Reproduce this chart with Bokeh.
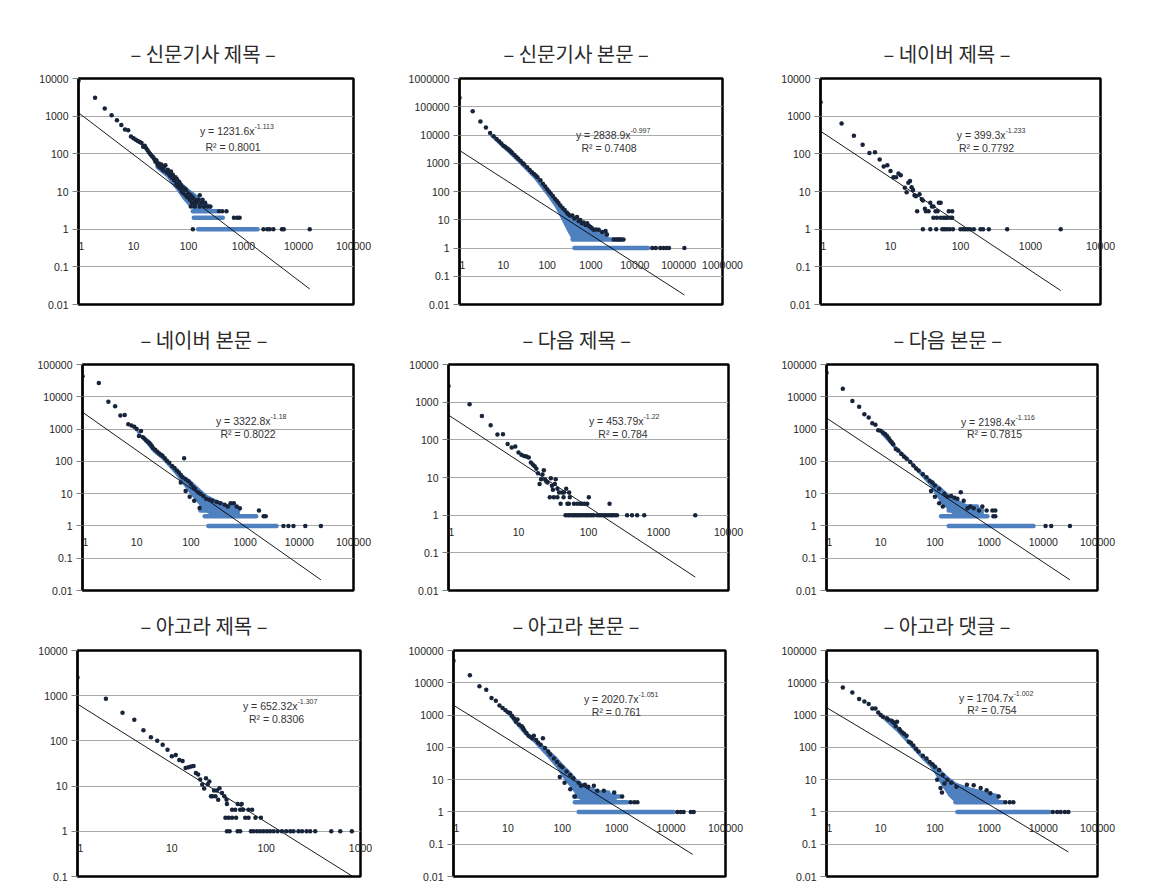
import math
from bokeh.plotting import figure
from bokeh.layouts import row, column
from bokeh.models import Range1d, FixedTicker, CustomJSTickFormatter, Label
from bokeh.embed import file_html
from bokeh.resources import INLINE

# ---------------- DATA ----------------
TITLES = ["– 신문기사 제목 –", "– 신문기사 본문 –", "– 네이버 제목 –",
          "– 네이버 본문 –", "– 다음 제목 –", "– 다음 본문 –",
          "– 아고라 제목 –", "– 아고라 본문 –", "– 아고라 댓글 –"]
FIT_A = [1231.6, 2838.9, 399.3, 3322.8, 453.79, 2198.4, 652.32, 2020.7, 1704.7]
FIT_B = [1.113, 0.997, 1.233, 1.18, 1.22, 1.116, 1.307, 1.051, 1.002]
FIT_B_TXT = ["-1.113", "-0.997", "-1.233", "-1.18", "-1.22", "-1.116", "-1.307", "-1.051", "-1.002"]
R2 = ["0.8001", "0.7408", "0.7792", "0.8022", "0.784", "0.7815", "0.8306", "0.761", "0.754"]
FIT_XMAX = [16000, 135000, 2700, 25000, 3350, 31000, 820, 25000, 29000]
X_DECADES = [5, 6, 4, 5, 4, 5, 3, 5, 5]
Y_LOG_MIN = [-2, -2, -2, -2, -2, -2, -1, -2, -2]
Y_LOG_MAX = [4, 6, 4, 5, 4, 5, 4, 5, 5]

# 1. 신문기사 제목
NT_PTS = [(1, 8700), (2, 3100), (3, 1600), (4, 1050), (5, 780), (6, 580), (7, 440), (8, 420), (9, 290),
          (10, 260), (11, 235), (12, 220), (13, 205), (14, 195), (15, 155), (16, 165), (17, 140), (18, 125),
          (19, 110), (20, 100), (21, 92), (22, 85), (23, 80), (24, 72), (25, 62), (26, 68), (27, 56),
          (28, 50), (29, 55), (30, 44), (32, 52), (33, 40), (35, 36), (36, 46), (38, 50), (40, 32),
          (42, 38), (44, 29), (46, 26), (48, 34), (50, 23), (52, 28), (55, 20), (58, 24), (60, 16),
          (62, 21), (65, 14), (68, 18), (70, 12), (72, 15), (75, 10), (78, 13), (80, 9), (85, 12),
          (88, 8), (90, 11), (95, 7), (100, 9), (105, 6), (110, 8), (115, 5), (120, 7), (125, 5),
          (130, 6), (140, 5), (150, 6), (160, 8), (170, 5), (180, 6), (200, 5), (220, 4), (250, 4)]
NT_R1 = [120, 2300, 2700, 3000, 3500, 5000, 5400, 16000]
NT_R2 = [670, 770, 850]
NT_R3 = [360, 410, 490]
NT_R4 = [110, 130, 160, 190]
NT_BANDS = [(3, 120, 330), (2, 125, 420), (1, 150, 1800)]
NT_CX = [25, 40, 60, 80, 100, 130, 160, 200, 260]
NT_CHI = [62, 42, 24, 16, 12, 9, 7, 5.5, 4.2]
NT_CLO = [42, 24, 11, 6, 4.2, 3.2, 3, 3, 3]

# 2. 신문기사 본문
NB_PTS = [(1, 210000), (2, 70000), (3, 30000), (4, 18600), (5, 11700), (6, 9000), (7, 7200), (8, 6000),
          (9, 5000), (10, 4200), (11, 3800), (12, 3400), (13, 3100), (14, 2800), (15, 2550), (16, 2300),
          (18, 1950), (20, 1650), (22, 1450), (25, 1200), (28, 1000), (30, 900), (35, 720), (40, 580),
          (45, 480), (50, 420), (55, 370), (60, 320), (70, 250), (80, 190), (90, 150), (100, 120),
          (110, 100), (120, 85), (135, 70), (150, 55), (165, 47), (180, 40), (200, 32), (225, 26),
          (250, 22), (280, 18), (300, 16), (330, 14), (375, 14), (420, 11), (480, 12.5), (520, 9),
          (570, 9.8), (620, 7.5), (680, 8), (750, 6.5), (820, 7.5), (900, 6), (970, 5.5), (1050, 5),
          (1150, 4.4), (1300, 4.5), (1500, 4.4), (1800, 3.7), (2150, 4), (2300, 3)]
NB_R1 = [25000, 30000, 38000, 45000, 52000, 60000, 135000]
NB_R2 = [3300, 3800, 4300, 4800, 5500]
NB_R3 = []
NB_R4 = []
NB_BANDS = [(3, 400, 2200), (2, 380, 5000), (1, 420, 20000)]
NB_CX = [5, 10, 20, 50, 100, 150, 200, 250, 300, 380, 500, 800, 1500, 2500]
NB_CHI = [11700, 4200, 1650, 420, 120, 55, 32, 22, 16, 13, 9, 6.5, 4.4, 3.5]
NB_CLO = [9000, 3300, 1200, 280, 70, 28, 12, 6, 3.5, 1.8, 1.8, 1.8, 1.8, 1.8]

# 3. 네이버 제목
VT_PTS = [(1, 2330), (2, 640), (3, 300), (4, 174), (5, 105), (6, 110), (7, 71), (8, 46), (9, 50),
          (10, 35), (11, 24), (12, 24), (13, 30), (14, 27), (16, 12.5), (17, 9.5), (18, 17), (19, 19),
          (20, 13), (21, 11), (22, 8), (23, 7.5), (26, 8.5), (28, 6.2), (29, 5.8), (31, 3.5),
          (37, 5), (49, 5), (52, 5), (39, 4), (41, 4)]
VT_R1 = [29, 37, 45, 55, 59, 64, 70, 78, 100, 109, 117, 127, 137, 155, 193, 210, 254, 464, 2700]
VT_R2 = [41, 46, 52, 57, 61, 65, 72, 76]
VT_R3 = [24, 32, 35, 44, 47, 68, 76]
VT_R4 = []
VT_BANDS = []
VT_CX = []
VT_CHI = []
VT_CLO = []

# 4. 네이버 본문
VB_PTS = [(1, 43600), (2, 26500), (3, 7000), (4, 5100), (5, 2650), (6, 2750), (7, 1400), (8, 1300),
          (9, 1170), (10, 1000), (11, 610), (12, 870), (13, 560), (14, 500), (15, 440), (16, 410),
          (17, 380), (18, 340), (19, 300), (20, 260), (22, 230), (24, 200), (26, 175), (28, 160),
          (30, 150), (33, 125), (36, 105), (40, 90), (45, 72), (50, 62), (55, 52), (60, 45), (65, 38),
          (70, 32), (75, 125), (80, 28), (90, 24), (100, 20), (110, 16), (120, 14), (135, 11), (150, 10),
          (170, 8.5), (190, 7), (220, 6.5), (250, 6), (300, 5.5), (350, 5), (420, 4.5), (480, 4),
          (540, 5), (620, 5), (700, 4), (800, 3.5), (1800, 3),
          (65, 22), (80, 12), (95, 8), (115, 6), (145, 3.6)]
VB_R1 = [5100, 6300, 7800, 12900, 25000]
VB_R2 = [2200, 2400]
VB_R3 = []
VB_R4 = []
VB_BANDS = [(4, 280, 600), (3, 150, 750), (2, 180, 1600), (1, 210, 3800)]
VB_CX = [10, 20, 30, 50, 70, 100, 150, 200, 300, 500, 800]
VB_CHI = [1000, 260, 155, 65, 40, 26, 14, 9, 6.5, 4.5, 3.5]
VB_CLO = [800, 190, 110, 42, 20, 9, 4, 2.5, 1.8, 1.8, 1.8]

# 5. 다음 제목
DT_PTS = [(1, 2680), (2, 877), (3, 431), (4, 244), (5, 138), (6, 141), (7, 77), (8, 63), (9, 67),
          (10, 46), (11, 40), (12, 37), (13, 36), (14, 34), (15, 25), (16, 22), (17, 20), (18, 17),
          (19, 13), (20, 6.7), (21, 9), (22, 12), (23, 15.5), (24, 8.8), (25, 7.8), (26, 7.4),
          (29, 9.5), (30, 6), (31, 4.7), (33, 6.7), (34, 9), (36, 5), (48, 5)]
DT_R1 = [47, 51, 54, 58.5, 62, 66, 70, 75, 80, 86, 92, 97, 104, 111, 119, 133, 143, 153, 165, 177,
         190, 205, 220, 237, 255, 356, 418, 495, 626, 3350]
DT_R2 = [40, 50, 52.5, 62, 69, 77, 81, 88, 96, 200]
DT_R3 = [28, 32, 36, 44, 54, 101]
DT_R4 = [38, 42, 44.5, 53]
DT_BANDS = []
DT_CX = []
DT_CHI = []
DT_CLO = []

# 6. 다음 본문
DB_PTS = [(1, 55400), (2, 17800), (3, 7400), (4, 4950), (5, 2880), (6, 2270), (7, 1510), (8, 1350),
          (9, 920), (10, 880), (11, 780), (12, 700), (13, 620), (14, 530), (15, 440), (16, 390),
          (17, 340), (19, 240), (21, 215), (24, 170), (27, 140), (30, 120), (35, 95), (40, 75),
          (45, 60), (50, 52), (60, 40), (70, 32), (80, 25), (90, 22), (100, 18), (120, 14), (150, 10),
          (170, 8), (200, 8.5), (230, 7.5), (260, 7), (300, 11), (340, 6), (400, 3.5), (450, 4),
          (520, 3.5), (650, 3), (750, 4), (900, 3), (1150, 3), (1300, 3),
          (85, 12), (100, 8), (120, 5), (140, 4)]
DB_R1 = [11000, 14000, 31000]
DB_R2 = [1200, 1300]
DB_R3 = []
DB_R4 = []
DB_BANDS = [(4, 200, 600), (3, 180, 650), (2, 130, 930), (1, 180, 6600)]
DB_CX = [10, 20, 30, 50, 80, 100, 130, 180, 250, 400, 800]
DB_CHI = [880, 280, 150, 60, 30, 22, 16, 9.5, 7, 4.5, 3.5]
DB_CLO = [700, 200, 110, 42, 18, 10, 5, 3, 1.8, 1.8, 1.8]

# 7. 아고라 제목
AT_PTS = [(1, 2530), (2, 855), (3, 420), (4, 294), (5, 171), (6, 120), (7, 101), (8, 82), (9, 64),
          (10, 46), (11, 49), (12, 38), (13, 36), (14, 25), (15, 26), (16, 27), (17, 28), (18, 19.6),
          (19, 18), (20, 14), (21, 10.9), (22, 8.9), (23, 15), (24, 11), (25, 12.7), (26, 6), (27, 6),
          (28, 8), (29, 6), (30, 8), (31, 5), (32, 9), (34, 7), (36, 6), (38, 5)]
AT_R1 = [38.4, 41, 49.8, 53, 69, 73.5, 80, 86.5, 94, 102, 110, 120, 132, 147, 163, 180, 195, 220,
         240, 268, 293, 331, 490, 610, 810]
AT_R2 = [37, 40, 43.5, 48, 60, 65, 77, 88]
AT_R3 = [43.5, 47, 53, 57, 65, 71]
AT_R4 = [38.4, 50, 55]
AT_BANDS = []
AT_CX = []
AT_CHI = []
AT_CLO = []

# 8. 아고라 본문
AB_PTS = [(1, 48000), (2, 17000), (3, 7760), (4, 6130), (5, 3390), (6, 2800), (7, 1970), (8, 1660),
          (9, 1400), (10, 1220), (11, 1150), (12, 930), (13, 780), (14, 620), (15, 730), (16, 510),
          (18, 450), (19, 400), (20, 340), (22, 280), (24, 230), (26, 210), (28, 190), (30, 230),
          (33, 170), (36, 140), (40, 120), (44, 190), (48, 95), (55, 75), (60, 60), (70, 45), (80, 35),
          (90, 28), (100, 24), (120, 18), (140, 14), (160, 11), (200, 8), (220, 6.5), (260, 7),
          (300, 6), (380, 6.5), (440, 4.5), (580, 4.5), (900, 4), (1260, 3),
          (90, 12), (110, 8), (140, 5), (170, 3)]
AB_R1 = [13000, 15000, 17000, 23000, 26000]
AB_R2 = [1800, 2100, 2400]
AB_R3 = []
AB_R4 = []
AB_BANDS = [(4, 220, 700), (3, 165, 1170), (2, 170, 1560), (1, 200, 11000)]
AB_CX = [10, 20, 30, 50, 80, 100, 150, 200, 300, 500, 1000]
AB_CHI = [1220, 340, 200, 100, 50, 32, 16, 9, 6.5, 4.5, 3.5]
AB_CLO = [1000, 250, 140, 55, 22, 12, 5, 2.5, 1.8, 1.8, 1.8]

# 9. 아고라 댓글
AC_PTS = [(1, 11400), (2, 7110), (3, 5000), (4, 3120), (5, 2640), (6, 2200), (7, 1600), (8, 1600),
          (9, 1210), (10, 1000), (11, 890), (13, 800), (14, 720), (16, 670), (17, 600), (18, 570),
          (19, 450), (20, 620), (22, 370), (23, 330), (25, 290), (27, 265), (30, 230), (33, 150),
          (36, 140), (40, 115), (45, 90), (50, 75), (60, 55), (70, 45), (80, 35), (90, 30), (100, 25),
          (120, 20), (140, 14), (170, 10), (200, 8), (250, 6), (390, 7), (520, 6.7), (700, 5.5),
          (900, 4.7), (1050, 3.8), (1500, 3),
          (127, 5.5), (150, 7.6), (110, 10), (135, 4)]
AC_R1 = [15000, 18000, 21000, 25000, 29000]
AC_R2 = [2000, 2400, 2800]
AC_R3 = []
AC_R4 = []
AC_BANDS = [(4, 260, 700), (3, 240, 1200), (2, 240, 1800), (1, 260, 13000)]
AC_CX = [10, 20, 40, 60, 80, 100, 130, 180, 250, 400, 800, 1500]
AC_CHI = [1000, 420, 120, 60, 40, 30, 20, 12, 8, 6, 4.5, 3.5]
AC_CLO = [850, 300, 85, 40, 25, 15, 7, 3, 1.8, 1.8, 1.8, 1.8]

PANEL_DATA = [
    (NT_PTS, [NT_R1, NT_R2, NT_R3, NT_R4], NT_BANDS, NT_CX, NT_CHI, NT_CLO),
    (NB_PTS, [NB_R1, NB_R2, NB_R3, NB_R4], NB_BANDS, NB_CX, NB_CHI, NB_CLO),
    (VT_PTS, [VT_R1, VT_R2, VT_R3, VT_R4], VT_BANDS, VT_CX, VT_CHI, VT_CLO),
    (VB_PTS, [VB_R1, VB_R2, VB_R3, VB_R4], VB_BANDS, VB_CX, VB_CHI, VB_CLO),
    (DT_PTS, [DT_R1, DT_R2, DT_R3, DT_R4], DT_BANDS, DT_CX, DT_CHI, DT_CLO),
    (DB_PTS, [DB_R1, DB_R2, DB_R3, DB_R4], DB_BANDS, DB_CX, DB_CHI, DB_CLO),
    (AT_PTS, [AT_R1, AT_R2, AT_R3, AT_R4], AT_BANDS, AT_CX, AT_CHI, AT_CLO),
    (AB_PTS, [AB_R1, AB_R2, AB_R3, AB_R4], AB_BANDS, AB_CX, AB_CHI, AB_CLO),
    (AC_PTS, [AC_R1, AC_R2, AC_R3, AC_R4], AC_BANDS, AC_CX, AC_CHI, AC_CLO),
]

# ---------------- LAYOUT / STYLE ----------------
COL_W = [390, 380, 371]
ROW_H = [311, 286, 286]
BORDERS = [(78, 37, 78, 7), (69, 48, 78, 7), (50, 41, 78, 7),
           (82, 37, 53, 7), (58, 42, 53, 7), (56, 44, 53, 7),
           (77, 30, 53, 7), (63, 45, 53, 7), (56, 44, 53, 7)]
TITLE_OFFSET = [52, 44, 63, 58, 74, 67, 63, 59, 57]
EQ_POS = [(176, 52, 154.5, 68.7), (171, 56, 149.5, 69), (185, 56, 166, 69),
          (188, 56, 165.5, 69), (195, 56, 174.5, 69), (189, 57, 168, 69),
          (220, 55, 199, 68), (185, 48, 163, 61), (187, 47, 165.5, 59)]
DOT = "#17243a"
BLUE = "#4f80bf"
GRID = "#a9a9a9"
TXT = "#262626"

Y_FMT = """
if (tick >= 1) { return Math.round(tick).toString(); }
return parseFloat(tick.toPrecision(1)).toString();
"""
# the "1" at the origin is nudged right so the frame edge does not hide it
X_FMT = """
if (Math.abs(tick - 1) < 1e-9) { return "\u00a0\u00a01"; }
return Math.round(tick).toString();
"""


def make_panel(i):
    pts, rows_, bands, cx, chi, clo = PANEL_DATA[i]
    c, r = i % 3, i // 3
    W, H = COL_W[c], ROW_H[r]
    bl, br, bt, bb = BORDERS[i]
    fw, fh = W - bl - br, H - bt - bb
    xd = X_DECADES[i]
    ylo, yhi = Y_LOG_MIN[i], Y_LOG_MAX[i]

    p = figure(width=W, height=H, x_axis_type="log", y_axis_type="log",
               x_range=Range1d(1, 10 ** xd), y_range=Range1d(10.0 ** ylo, 10.0 ** yhi),
               output_backend="svg", toolbar_location=None, title=TITLES[i],
               min_border_left=bl, min_border_right=br, min_border_top=bt, min_border_bottom=bb)
    p.background_fill_color = "white"
    p.border_fill_color = "white"
    p.outline_line_color = "black"
    p.outline_line_width = 2.5

    p.title.align = "left"
    p.title.offset = TITLE_OFFSET[i]
    p.title.text_font = "Noto Sans CJK KR"
    p.title.text_font_size = "20px"
    p.title.text_font_style = "normal"
    p.title.text_color = "#2a2a2a"
    p.title.standoff = 21

    xt = [10 ** k for k in range(0, xd + 1)]
    yt = [10.0 ** k for k in range(ylo, yhi + 1)]

    # x axis: Excel crosses it at y = 1, so its labels are pulled up to sit just under that line
    dist_y1 = fh * (0 - ylo) / (yhi - ylo)
    ax = p.xaxis[0]
    ax.ticker = FixedTicker(ticks=xt, minor_ticks=[])
    ax.formatter = CustomJSTickFormatter(code=X_FMT)
    ax.axis_line_color = None
    ax.major_tick_line_color = None
    ax.major_tick_out = 0
    ax.major_tick_in = 0
    ax.major_label_standoff = int(round(10 - dist_y1))
    ax.major_label_text_font = "Liberation Sans"
    ax.major_label_text_font_size = "10.5px"
    ax.major_label_text_color = TXT

    ay = p.yaxis[0]
    ay.ticker = FixedTicker(ticks=yt, minor_ticks=[])
    ay.formatter = CustomJSTickFormatter(code=Y_FMT)
    ay.axis_line_color = "black"
    ay.axis_line_width = 2
    ay.major_tick_line_color = "#808080"
    ay.major_tick_out = 6
    ay.major_tick_in = 0
    ay.major_label_standoff = 4
    ay.major_label_text_font = "Liberation Sans"
    ay.major_label_text_font_size = "10.5px"
    ay.major_label_text_color = TXT

    p.xgrid.visible = False
    p.ygrid.ticker = FixedTicker(ticks=yt, minor_ticks=[])
    p.ygrid.grid_line_color = GRID
    p.ygrid.grid_line_width = 1

    # dense clouds and bands of overlapping markers
    if cx:
        p.varea(x=cx, y1=clo, y2=chi, fill_color=BLUE)
    if bands:
        p.segment(x0=[b[1] for b in bands], y0=[b[0] for b in bands],
                  x1=[b[2] for b in bands], y1=[b[0] for b in bands],
                  line_color=BLUE, line_width=4.5, line_cap="round")

    # fitted power-law trendline
    a, b, xm = FIT_A[i], FIT_B[i], FIT_XMAX[i]
    lx = [1, xm]
    p.line(lx, [a * v ** (-b) for v in lx], line_color="black", line_width=0.9)

    # individual markers
    xs = [q[0] for q in pts]
    ys = [q[1] for q in pts]
    for k, rx in enumerate(rows_):
        xs += list(rx)
        ys += [k + 1] * len(rx)
    p.scatter(xs, ys, marker="circle", size=4.5, fill_color=DOT, line_color=None)

    # equation labels
    ex, ey, rx_, ry_ = EQ_POS[i]
    to_x = lambda px: 10 ** (xd * px / fw)
    to_y = lambda py: 10 ** (yhi - (yhi - ylo) * py / fh)
    p.add_layout(Label(x=to_x(ex), y=to_y(ey), text=f"y = {a}x", text_align="right",
                       text_baseline="middle", text_font="Liberation Sans",
                       text_font_size="10.5px", text_color="#333333"))
    p.add_layout(Label(x=to_x(ex), y=to_y(ey), text=FIT_B_TXT[i], text_align="left",
                       text_baseline="middle", y_offset=4.5, text_font="Liberation Sans",
                       text_font_size="7px", text_color="#333333"))
    p.add_layout(Label(x=to_x(rx_), y=to_y(ry_), text=f"R² = {R2[i]}", text_align="center",
                       text_baseline="middle", text_font="Liberation Sans",
                       text_font_size="10.5px", text_color="#333333"))
    return p


figs = [make_panel(i) for i in range(9)]
layout = column(row(*figs[0:3], spacing=0), row(*figs[3:6], spacing=0),
                row(*figs[6:9], spacing=0), spacing=0)

open("out.html", "w").write(file_html(layout, INLINE))
